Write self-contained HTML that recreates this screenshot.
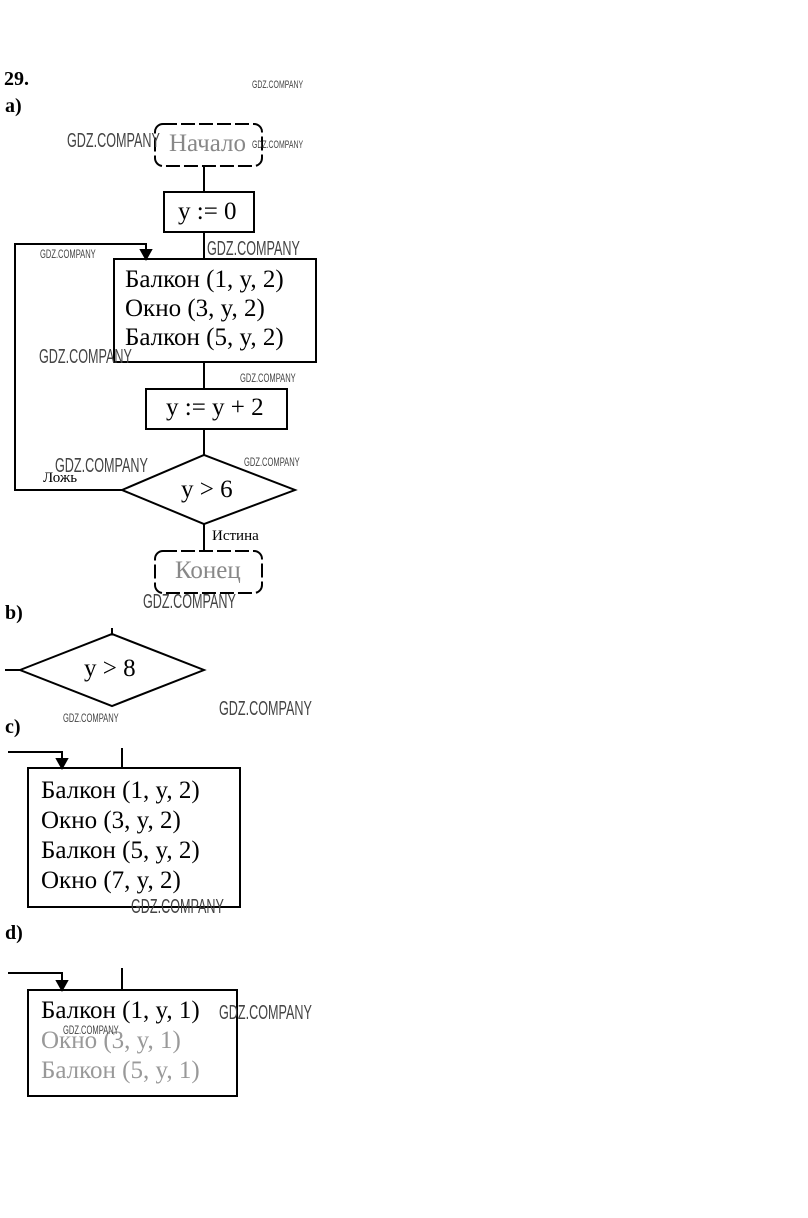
<!DOCTYPE html>
<html><head><meta charset="utf-8"><style>
body{margin:0;background:#fff;width:808px;height:1218px;overflow:hidden;position:relative;font-family:"Liberation Serif",serif;}
.t{position:absolute;white-space:nowrap;color:#000;}
.w{position:absolute;white-space:nowrap;font-family:"Liberation Sans",sans-serif;color:#444;transform:scaleX(0.63);transform-origin:left top;}
svg{position:absolute;left:0;top:0}
</style></head><body>
<svg width="808" height="1218" fill="none" stroke="#000" stroke-width="2">
<rect x="155" y="124" width="107" height="42" rx="8" stroke-dasharray="14 4"/>
<line x1="204" y1="166" x2="204" y2="192"/>
<rect x="164" y="192" width="90" height="40"/>
<line x1="204" y1="232" x2="204" y2="259"/>
<rect x="114" y="259" width="202" height="103"/>
<line x1="204" y1="362" x2="204" y2="389"/>
<rect x="146" y="389" width="141" height="40"/>
<line x1="204" y1="429" x2="204" y2="455"/>
<polygon points="122,490 204,455 295,490 204,524"/>
<polyline points="122,490 15,490 15,244 146,244 146,253"/>
<polygon points="141,250 151,250 146,259" fill="#000"/>
<line x1="204" y1="524" x2="204" y2="551"/>
<rect x="155" y="551" width="107" height="42" rx="8" stroke-dasharray="14 4"/>
<polygon points="20,670 112,634 204,670 112,706"/>
<line x1="5" y1="670" x2="20" y2="670"/>
<line x1="112" y1="628" x2="112" y2="634"/>
<rect x="28" y="768" width="212" height="139"/>
<polyline points="8,752 62,752 62,762"/>
<polygon points="57,759 67,759 62,768" fill="#000"/>
<line x1="122" y1="748" x2="122" y2="768"/>
<rect x="28" y="990" width="209" height="106"/>
<polyline points="8,973 62,973 62,984"/>
<polygon points="57,981 67,981 62,990" fill="#000"/>
<line x1="122" y1="968" x2="122" y2="990"/>
</svg>
<div class="t" style="left:4px;top:68px;font-size:20px;font-weight:bold">29.</div>
<div class="t" style="left:5px;top:95px;font-size:20px;font-weight:bold">a)</div>
<div class="t" style="left:169px;top:130px;font-size:25px;color:#888">Начало</div>
<div class="t" style="left:178px;top:198px;font-size:25px">y := 0</div>
<div class="t" style="left:125px;top:265px;font-size:25px;line-height:29px">Балкон (1, y, 2)<br>Окно (3, y, 2)<br>Балкон (5, y, 2)</div>
<div class="t" style="left:166px;top:394px;font-size:25px">y := y + 2</div>
<div class="t" style="left:181px;top:476px;font-size:25px">y &gt; 6</div>
<div class="t" style="left:43px;top:470px;font-size:15px">Ложь</div>
<div class="t" style="left:212px;top:528px;font-size:15px">Истина</div>
<div class="t" style="left:175px;top:557px;font-size:25px;color:#888">Конец</div>
<div class="t" style="left:5px;top:602px;font-size:20px;font-weight:bold">b)</div>
<div class="t" style="left:84px;top:655px;font-size:25px">y &gt; 8</div>
<div class="t" style="left:5px;top:716px;font-size:20px;font-weight:bold">c)</div>
<div class="t" style="left:41px;top:776px;font-size:25px;line-height:30px">Балкон (1, y, 2)<br>Окно (3, y, 2)<br>Балкон (5, y, 2)<br>Окно (7, y, 2)</div>
<div class="t" style="left:5px;top:922px;font-size:20px;font-weight:bold">d)</div>
<div class="t" style="left:41px;top:996px;font-size:25px;line-height:30px">Балкон (1, y, 1)<br><span style="color:#999">Окно (3, y, 1)<br>Балкон (5, y, 1)</span></div>
<div class="w" style="left:252px;top:79px;font-size:11px">GDZ.COMPANY</div>
<div class="w" style="left:67px;top:130px;font-size:20px">GDZ.COMPANY</div>
<div class="w" style="left:252px;top:139px;font-size:11px">GDZ.COMPANY</div>
<div class="w" style="left:40px;top:247px;font-size:12px">GDZ.COMPANY</div>
<div class="w" style="left:207px;top:238px;font-size:20px">GDZ.COMPANY</div>
<div class="w" style="left:39px;top:346px;font-size:20px">GDZ.COMPANY</div>
<div class="w" style="left:240px;top:371px;font-size:12px">GDZ.COMPANY</div>
<div class="w" style="left:55px;top:455px;font-size:20px">GDZ.COMPANY</div>
<div class="w" style="left:244px;top:455px;font-size:12px">GDZ.COMPANY</div>
<div class="w" style="left:143px;top:591px;font-size:20px">GDZ.COMPANY</div>
<div class="w" style="left:219px;top:698px;font-size:20px">GDZ.COMPANY</div>
<div class="w" style="left:63px;top:711px;font-size:12px">GDZ.COMPANY</div>
<div class="w" style="left:131px;top:896px;font-size:20px">GDZ.COMPANY</div>
<div class="w" style="left:219px;top:1002px;font-size:20px">GDZ.COMPANY</div>
<div class="w" style="left:63px;top:1023px;font-size:12px">GDZ.COMPANY</div>
</body></html>
